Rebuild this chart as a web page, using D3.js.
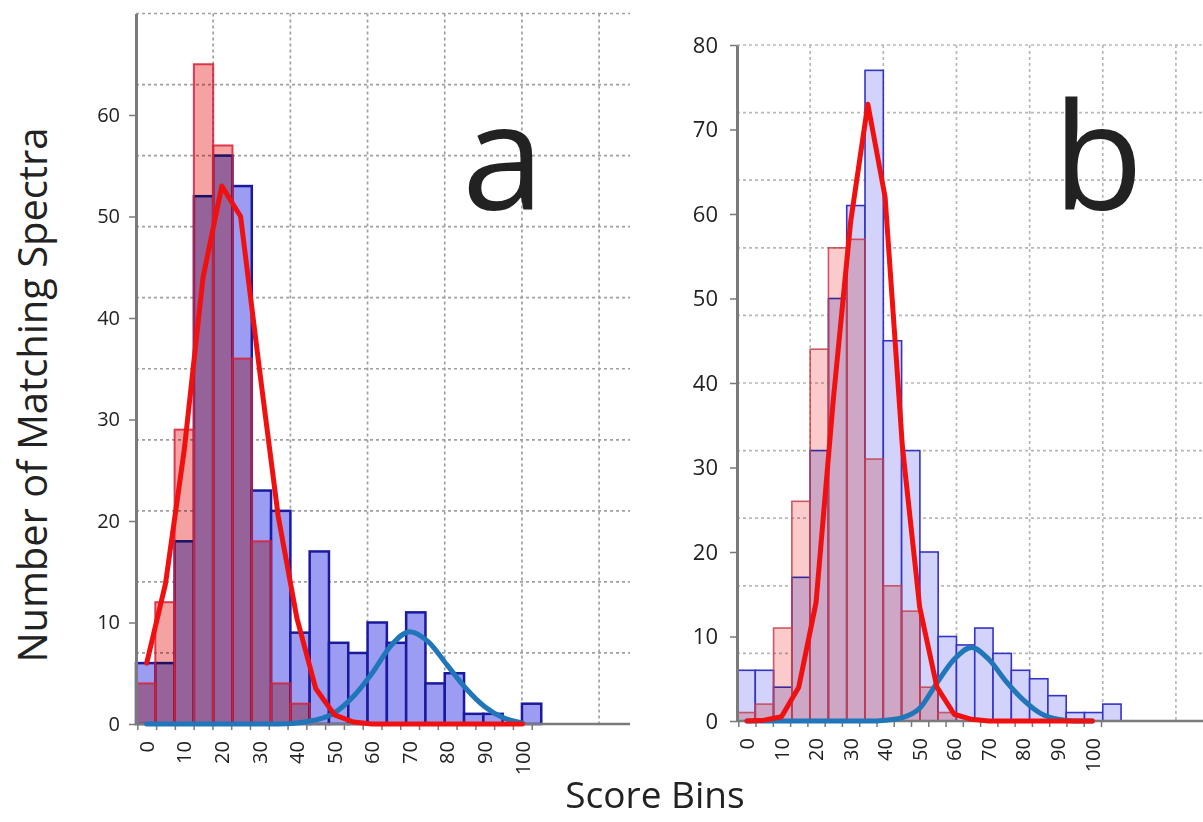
<!DOCTYPE html>
<html>
<head>
<meta charset="utf-8">
<script src="https://cdn.jsdelivr.net/npm/d3@7/dist/d3.min.js"></script>
<style>
  body { margin: 0; background: #fff; }
  svg { display: block; background: #fff; }
  text { font-family: "Open Sans", "Noto Sans", sans-serif; fill: #222; }
</style>
</head>
<body>
<svg id="chart" width="1203" height="822"></svg>
<script>
// score bins (bin centres) and the labels written under every other bin
var bins = [0, 5, 10, 15, 20, 25, 30, 35, 40, 45, 50, 55, 60, 65, 70, 75, 80, 85, 90, 95, 100];
var binLabels = ["0", "10", "20", "30", "40", "50", "60", "70", "80", "90", "100"];

// panel a - counts per bin
var blueA = [6, 6, 18, 52, 56, 53, 23, 21, 9, 17, 8, 7, 10, 8, 11, 4, 5, 1, 1, 0, 2];
var redA = [4, 12, 29, 65, 57, 36, 18, 4, 2, 0, 0, 0, 0, 0, 0, 0, 0, 0, 0, 0, 0];
// panel a - fitted curves
var redFitA = [6, 13.8, 27, 44, 53, 50, 35, 20.5, 10.4, 3.5, 0.9, 0.2, 0, 0, 0, 0, 0, 0, 0, 0, 0];
var blueFitA = [0, 0, 0, 0, 0, 0, 0, 0, 0.1, 0.4, 1.1, 2.7, 5, 7.7, 9.1, 8.1, 5.8, 3.5, 1.7, 0.6, 0.1];
var yTicksA = [0, 10, 20, 30, 40, 50, 60];

// panel b - counts per bin
var blueB = [6, 6, 4, 17, 32, 50, 61, 77, 45, 32, 20, 10, 9, 11, 8, 6, 5, 3, 1, 1, 2];
var redB = [1, 2, 11, 26, 44, 56, 57, 31, 16, 13, 4, 1, 0, 0, 0, 0, 0, 0, 0, 0, 0];
// panel b - fitted curves
var redFitB = [0, 0.1, 0.5, 4, 14, 38, 59, 73, 62, 32.5, 13.5, 4, 0.8, 0.2, 0, 0, 0, 0, 0, 0, 0];
var blueFitB = [0, 0, 0, 0, 0, 0, 0, 0, 0.1, 0.4, 1.5, 4.5, 7.3, 8.7, 7.3, 4.7, 2.5, 0.9, 0.2, 0, 0];
var yTicksB = [0, 10, 20, 30, 40, 50, 60, 70, 80];

var svg = d3.select("#chart");

function drawPanel(p) {
    var g = svg.append("g").style("isolation", "isolate");

    var y = d3.scaleLinear()
        .domain([0, p.yMax])
        .range([p.bottom, p.top]);

    // the columns sit on slots a bit wider than the category ticks
    var xBar = d3.scaleLinear()
        .domain([0, p.slots])
        .range([p.left, p.right]);

    // category axis: ticks, labels and fitted curves
    var xCat = d3.scaleLinear()
        .domain([bins[0] - 2.5, bins[bins.length - 1] + 2.5])
        .range(p.catRange);

    // dotted gridlines
    var grid = g.append("g")
        .attr("stroke", p.gridColor)
        .attr("stroke-width", 1.7)
        .attr("stroke-dasharray", "3,3");

    grid.selectAll("line.h")
        .data(d3.range(p.gridStep, p.yMax + 0.01, p.gridStep))
        .enter().append("line")
        .attr("x1", p.left).attr("x2", p.right)
        .attr("y1", function(d) { return y(d) }).attr("y2", function(d) { return y(d) });

    grid.selectAll("line.v")
        .data([4, 8, 12, 16, 20, 24])
        .enter().append("line")
        .attr("x1", function(d) { return xBar(d) }).attr("x2", function(d) { return xBar(d) })
        .attr("y1", y(p.yMax)).attr("y2", y(0));

    // blue columns
    var blueBars = g.append("g");
    p.blue.forEach(function(v, i) {
        if (v <= 0) return;
        blueBars.append("rect")
            .attr("x", xBar(i)).attr("width", xBar(i + 1) - xBar(i))
            .attr("y", y(v)).attr("height", y(0) - y(v))
            .attr("fill", p.blueFill)
            .attr("stroke", p.blueStroke)
            .attr("stroke-width", p.blueWidth);
    });

    // red columns, multiplied over the blue ones
    var redFills = g.append("g");
    var redLines = g.append("g");
    p.red.forEach(function(v, i) {
        if (v <= 0) return;
        redFills.append("rect")
            .attr("x", xBar(i)).attr("width", xBar(i + 1) - xBar(i))
            .attr("y", y(v)).attr("height", y(0) - y(v))
            .attr("fill", p.redFill)
            .style("mix-blend-mode", "multiply");
        redLines.append("rect")
            .attr("x", xBar(i)).attr("width", xBar(i + 1) - xBar(i))
            .attr("y", y(v)).attr("height", y(0) - y(v))
            .attr("fill", "none")
            .attr("stroke", p.redStroke)
            .attr("stroke-width", p.redWidth)
            .attr("stroke-opacity", 0.85);
    });

    // y axis
    var yAxis = d3.axisLeft(y)
        .tickValues(p.yTicks)
        .tickSize(7)
        .tickSizeOuter(0)
        .tickPadding(p.yPad);

    var ya = g.append("g")
        .attr("transform", "translate(" + p.left + ",0)")
        .call(yAxis);
    ya.select(".domain").attr("stroke", "#7a7a7a").attr("stroke-width", 3);
    ya.selectAll(".tick line").attr("stroke", "#7a7a7a").attr("stroke-width", 1.5);
    ya.selectAll(".tick text")
        .attr("font-family", null)
        .style("font-size", p.yFont + "px")
        .attr("fill", "#222");

    // x axis line and category ticks
    g.append("line")
        .attr("x1", p.left).attr("x2", p.right)
        .attr("y1", y(0)).attr("y2", y(0))
        .attr("stroke", "#7a7a7a").attr("stroke-width", 2.5);

    var edges = bins.map(function(b) { return b - 2.5 }).concat([bins[bins.length - 1] + 2.5]);
    var xAxis = d3.axisBottom(xCat)
        .tickValues(edges)
        .tickFormat("")
        .tickSize(6)
        .tickSizeOuter(0);
    var xa = g.append("g")
        .attr("transform", "translate(0," + y(0) + ")")
        .call(xAxis);
    xa.select(".domain").remove();
    xa.selectAll(".tick line").attr("stroke", "#7a7a7a").attr("stroke-width", 1.5);

    g.append("g").selectAll("text")
        .data(binLabels)
        .enter().append("text")
        .attr("transform", function(d) {
            return "translate(" + xCat(+d) + "," + (y(0) + 17) + ") rotate(-90)";
        })
        .attr("text-anchor", "end")
        .attr("dy", "0.36em")
        .style("font-size", p.xFont + "px")
        .text(function(d) { return d });

    // fitted curves
    var redLine = d3.line()
        .x(function(d, i) { return xCat(bins[i]) })
        .y(function(d) { return y(d) });
    var blueLine = d3.line()
        .curve(d3.curveMonotoneX)
        .x(function(d, i) { return xCat(bins[i]) })
        .y(function(d) { return y(d) });

    g.append("path")
        .datum(p.blueFit)
        .attr("fill", "none")
        .attr("stroke", "#1f76b8")
        .attr("stroke-width", 5)
        .attr("stroke-linejoin", "round")
        .attr("stroke-linecap", "round")
        .attr("d", blueLine);

    g.append("path")
        .datum(p.redFit)
        .attr("fill", "none")
        .attr("stroke", "#f01010")
        .attr("stroke-width", 5)
        .attr("stroke-linejoin", "round")
        .attr("stroke-linecap", "round")
        .attr("d", redLine);

    // panel letter
    g.append("text")
        .attr("x", p.letterX).attr("y", 210)
        .attr("text-anchor", "middle")
        .style("font-size", "148px")
        .attr("fill", "#111")
        .text(p.letter);
}

drawPanel({
    blue: blueA, red: redA, blueFit: blueFitA, redFit: redFitA, yTicks: yTicksA,
    yMax: 70, gridStep: 7, slots: 25.6,
    left: 136, right: 630, top: 13.5, bottom: 724, catRange: [137.3, 531.7],
    blueFill: "#9c9cf3", blueStroke: "#1a1a9e", blueWidth: 2.5,
    redFill: "#f4a2a2", redStroke: "#d8203a", redWidth: 2,
    gridColor: "#a0a0a0", yFont: 20, yPad: 9, xFont: 20,
    letter: "a", letterX: 503
});

drawPanel({
    blue: blueB, red: redB, blueFit: blueFitB, redFit: redFitB, yTicks: yTicksB,
    yMax: 80, gridStep: 8, slots: 25.48,
    left: 737, right: 1203, top: 45, bottom: 721, catRange: [738.3, 1101],
    blueFill: "#d2d2fa", blueStroke: "#3434c6", blueWidth: 1.6,
    redFill: "#fbcaca", redStroke: "#c8404e", redWidth: 1.6,
    gridColor: "#b8b8b8", yFont: 22, yPad: 12, xFont: 20,
    letter: "b", letterX: 1098
});

// axis titles shared by both panels
svg.append("text")
    .attr("transform", "translate(47,395) rotate(-90)")
    .attr("text-anchor", "middle")
    .attr("textLength", 535)
    .attr("lengthAdjust", "spacingAndGlyphs")
    .style("font-size", "40px")
    .text("Number of Matching Spectra");

svg.append("text")
    .attr("x", 655).attr("y", 808)
    .attr("text-anchor", "middle")
    .style("font-size", "37px")
    .text("Score Bins");
</script>
</body>
</html>
